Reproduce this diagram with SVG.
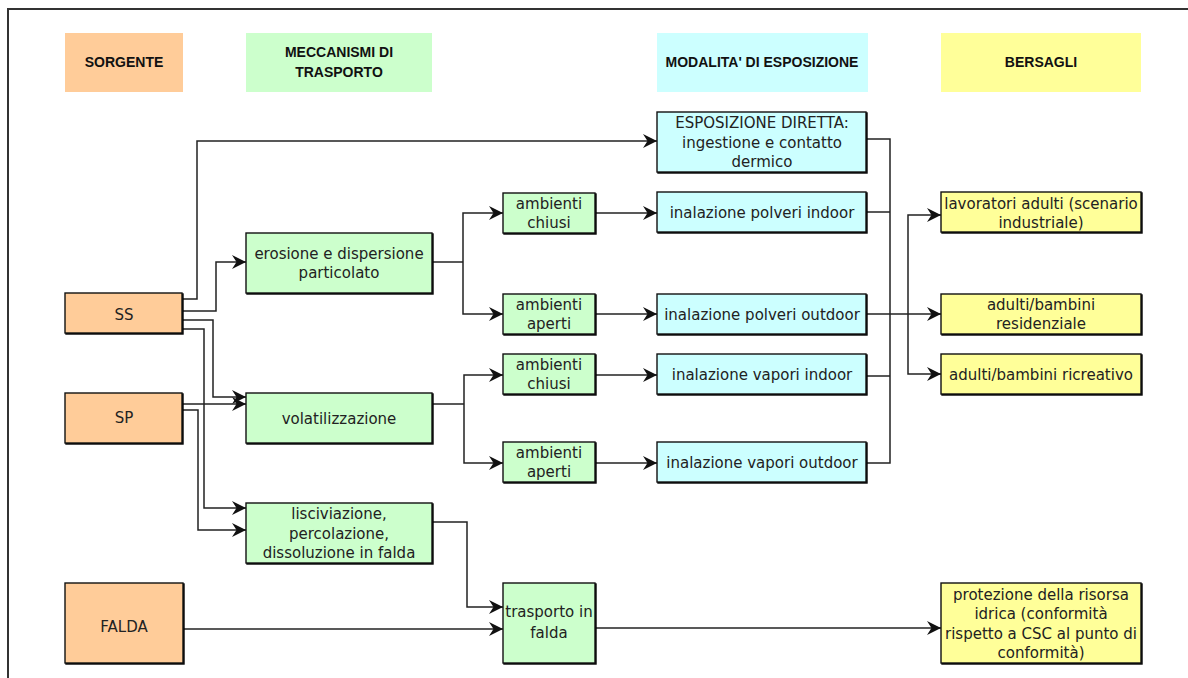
<svg xmlns="http://www.w3.org/2000/svg" width="1188" height="678" viewBox="0 0 1188 678">
<style>
.hdr{font-family:"Liberation Sans",Arial,sans-serif;font-weight:bold;font-size:14px;fill:#111;text-anchor:middle}
.t{font-family:"DejaVu Sans","Liberation Sans",sans-serif;font-size:15px;fill:#222;text-anchor:middle}
.box{stroke:#111;stroke-width:1.4;filter:url(#sh)}
.src{fill:#FFCC99}.grn{fill:#CCFFCC}.cyn{fill:#CCFFFF}.yel{fill:#FFFF99}
.c{fill:none;stroke:#222;stroke-width:1.5}
.a{marker-end:url(#arr)}
</style>
<defs>
<filter id="sh" x="-5%" y="-5%" width="110%" height="110%">
<feDropShadow dx="1" dy="1" stdDeviation="0" flood-color="#000"/>
</filter>
<marker id="arr" markerUnits="userSpaceOnUse" markerWidth="15" markerHeight="14" refX="14" refY="7" orient="auto">
<path d="M0,0 L14,7 L0,14 L4.5,7 z" fill="#111"/>
</marker>
</defs>
<rect width="1188" height="678" fill="#fff"/>
<path d="M8,678 V9 H1188" fill="none" stroke="#333" stroke-width="2"/>

<g id="headers">
<g id="h-sorgente"><rect x="65" y="33" width="118" height="59" class="src"/><text class="hdr" x="124" y="67">SORGENTE</text></g>
<g id="h-meccanismi"><rect x="246" y="33" width="186" height="59" class="grn"/><text class="hdr" x="339" y="57">MECCANISMI DI</text><text class="hdr" x="339" y="77">TRASPORTO</text></g>
<g id="h-modalita"><rect x="657" y="33" width="211" height="59" class="cyn"/><text class="hdr" x="762" y="67">MODALITA' DI ESPOSIZIONE</text></g>
<g id="h-bersagli"><rect x="941" y="33" width="200" height="59" class="yel"/><text class="hdr" x="1041" y="67">BERSAGLI</text></g>
</g>

<g id="connectors">
<path class="c a" d="M182,299 H197 V141 H657"/>
<path class="c a" d="M182,311 H216 V262 H246"/>
<path class="c a" d="M182,320 H213 V397 H246"/>
<path class="c a" d="M182,329 H204 V508 H246"/>
<path class="c a" d="M182,404 H246"/>
<path class="c a" d="M182,410 H198 V530 H246"/>
<path class="c" d="M432,262 H463"/>
<path class="c a" d="M463,262 V213 H503"/>
<path class="c a" d="M463,262 V314 H503"/>
<path class="c" d="M432,404 H464"/>
<path class="c a" d="M464,404 V375 H503"/>
<path class="c a" d="M464,404 V463 H503"/>
<path class="c a" d="M595,213 H657"/>
<path class="c a" d="M595,314 H657"/>
<path class="c a" d="M595,375 H657"/>
<path class="c a" d="M595,463 H657"/>
<path class="c a" d="M432,522 H467 V607 H503"/>
<path class="c a" d="M183,629 H503"/>
<path class="c a" d="M595,628 H941"/>
<path class="c" d="M866,139 H890 V463 H866"/>
<path class="c" d="M866,212 H890"/>
<path class="c" d="M866,376 H890"/>
<path class="c a" d="M866,314 H941"/>
<path class="c a" d="M908,314 V215 H941"/>
<path class="c a" d="M908,314 V374 H941"/>
</g>

<g id="n-ss"><rect x="65" y="293" width="117" height="40" class="box src"/><text class="t" x="124" y="320">SS</text></g>
<g id="n-sp"><rect x="65" y="393" width="117" height="50" class="box src"/><text class="t" x="124" y="423">SP</text></g>
<g id="n-falda"><rect x="65" y="583" width="118" height="80" class="box src"/><text class="t" x="124" y="632">FALDA</text></g>

<g id="n-erosione"><rect x="246" y="233" width="186" height="60" class="box grn"/><text class="t" x="339" y="259">erosione e dispersione</text><text class="t" x="339" y="278">particolato</text></g>
<g id="n-volatil"><rect x="246" y="393" width="186" height="50" class="box grn"/><text class="t" x="339" y="424">volatilizzazione</text></g>
<g id="n-lisciv"><rect x="246" y="503" width="186" height="60" class="box grn"/><text class="t" x="339" y="519">lisciviazione,</text><text class="t" x="339" y="539">percolazione,</text><text class="t" x="339" y="558">dissoluzione in falda</text></g>
<g id="n-trasporto"><rect x="503" y="583" width="92" height="80" class="box grn"/><text class="t" x="549" y="617">trasporto in</text><text class="t" x="549" y="638">falda</text></g>

<g id="n-chiusi1"><rect x="503" y="193" width="92" height="40" class="box grn"/><text class="t" x="549" y="209">ambienti</text><text class="t" x="549" y="228">chiusi</text></g>
<g id="n-aperti1"><rect x="503" y="294" width="92" height="40" class="box grn"/><text class="t" x="549" y="310">ambienti</text><text class="t" x="549" y="329">aperti</text></g>
<g id="n-chiusi2"><rect x="503" y="354" width="92" height="40" class="box grn"/><text class="t" x="549" y="370">ambienti</text><text class="t" x="549" y="389">chiusi</text></g>
<g id="n-aperti2"><rect x="503" y="442" width="92" height="40" class="box grn"/><text class="t" x="549" y="458">ambienti</text><text class="t" x="549" y="477">aperti</text></g>

<g id="n-diretta"><rect x="657" y="112" width="209" height="60" class="box cyn"/><text class="t" x="762" y="128">ESPOSIZIONE DIRETTA:</text><text class="t" x="762" y="148">ingestione e contatto</text><text class="t" x="762" y="167">dermico</text></g>
<g id="n-polv-in"><rect x="657" y="192" width="209" height="40" class="box cyn"/><text class="t" x="762" y="218">inalazione polveri indoor</text></g>
<g id="n-polv-out"><rect x="657" y="294" width="209" height="40" class="box cyn"/><text class="t" x="762" y="320">inalazione polveri outdoor</text></g>
<g id="n-vap-in"><rect x="657" y="354" width="209" height="40" class="box cyn"/><text class="t" x="762" y="380">inalazione vapori indoor</text></g>
<g id="n-vap-out"><rect x="657" y="442" width="209" height="40" class="box cyn"/><text class="t" x="762" y="468">inalazione vapori outdoor</text></g>

<g id="n-lavoratori"><rect x="941" y="192" width="200" height="40" class="box yel"/><text class="t" x="1041" y="209">lavoratori adulti (scenario</text><text class="t" x="1041" y="228">industriale)</text></g>
<g id="n-residenziale"><rect x="941" y="294" width="200" height="40" class="box yel"/><text class="t" x="1041" y="310">adulti/bambini</text><text class="t" x="1041" y="329">residenziale</text></g>
<g id="n-ricreativo"><rect x="941" y="354" width="200" height="40" class="box yel"/><text class="t" x="1041" y="380">adulti/bambini ricreativo</text></g>
<g id="n-protezione"><rect x="941" y="583" width="200" height="80" class="box yel"/><text class="t" x="1041" y="600">protezione della risorsa</text><text class="t" x="1041" y="619">idrica (conformità</text><text class="t" x="1041" y="639">rispetto a CSC al punto di</text><text class="t" x="1041" y="658">conformità)</text></g>
</svg>
